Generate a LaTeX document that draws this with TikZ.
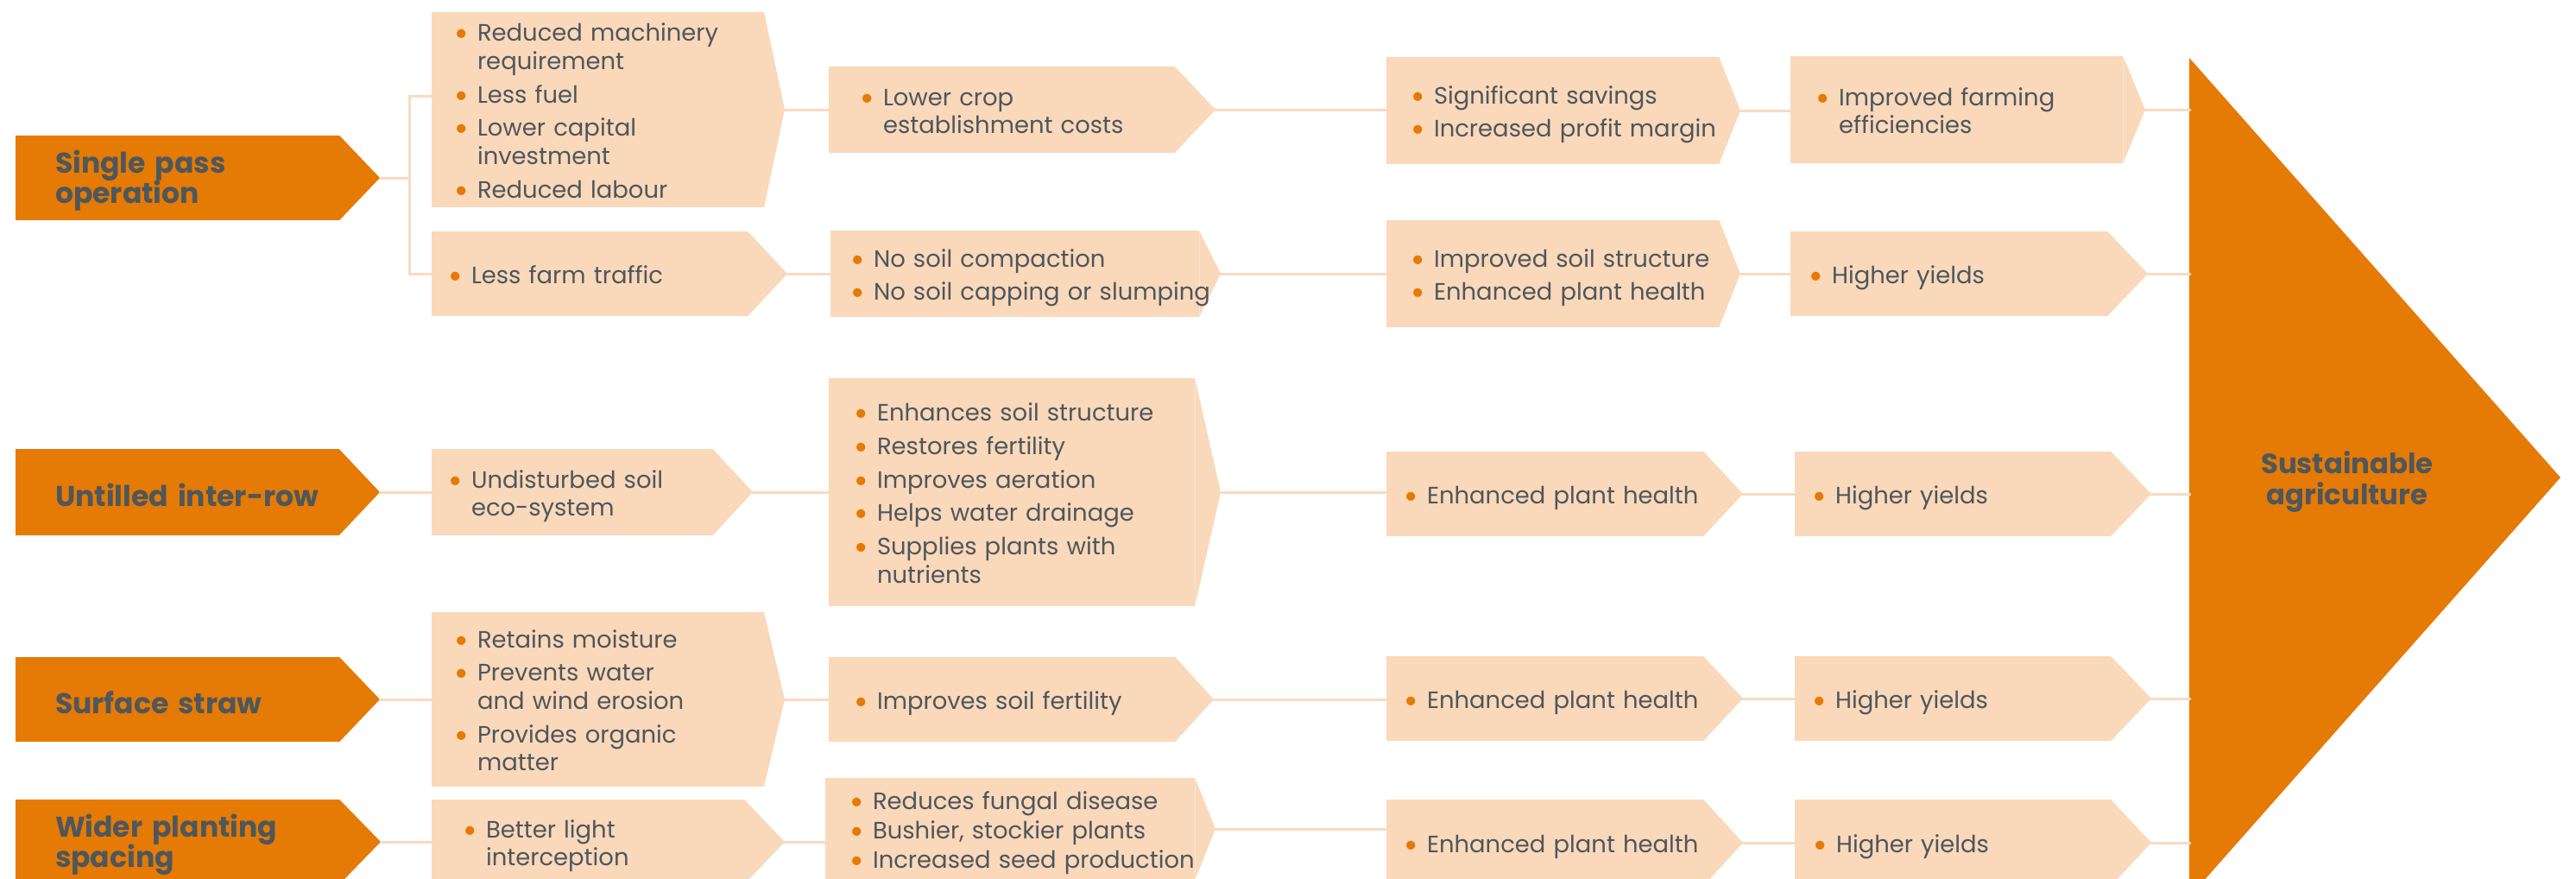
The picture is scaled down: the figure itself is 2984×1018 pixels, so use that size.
\documentclass[tikz,border=0pt]{standalone}
\usepackage{fontspec}
\setmainfont{Poppins}
\newfontfamily\bulfont{Lato}
\usepackage{tikz}
\definecolor{box_orange}{RGB}{229,122,5}
\definecolor{box_peach}{RGB}{250,216,186}
\definecolor{edge_peach}{RGB}{250,218,192}
\definecolor{text_gray}{RGB}{77,87,92}
\pgfdeclarelayer{bg}
\pgfsetlayers{bg,main}

\def\boxpad{0.34cm}
\def\itemgap{1.7pt}
% one bullet point, lines broken by hand with \\
\newcommand{\itm}[1]{\noindent\makebox[5.4pt][l]{\hspace*{-2.2pt}\bulfont\textcolor{box_orange}{\textbullet}}\parbox[t]{4.5cm}{\raggedright\strut#1\strut}\par}
% pointed right end of a box (under the text), and its tip coordinate
\newcommand{\chevtip}[3]{%
  \begin{pgfonlayer}{bg}
    \fill[#3] (#1.north east) -- (#2,0 |- #1.east) -- (#1.south east) -- cycle;
  \end{pgfonlayer}
  \coordinate (#1-tip) at (#2,0 |- #1.east);}

\begin{document}
\begin{tikzpicture}[x=0.01cm,y=-0.01cm]
    \tikzset{lpad/.code={\def\boxpad{#1}},igap/.code={\def\itemgap{#1}}}
    \tikzstyle{peachbox}=[rectangle, fill=box_peach, anchor=west, inner sep=0pt, outer sep=0pt, text=text_gray,
        font=\fontsize{7.8}{9.3}\selectfont,
        execute at begin node={\raggedright\leftskip=\boxpad\relax\rightskip=-3cm plus 1fil\relax
            \parskip=\itemgap\relax\lineskip=0pt\relax\rule{0pt}{9.3pt}}]
    \tikzstyle{headbox}=[style=peachbox, fill=box_orange, lpad=0.46cm, font=\fontsize{9.4}{9.2}\selectfont\bfseries]
    \tikzstyle{conn}=[edge_peach, line width=0.03cm, line cap=rect]
    \tikzstyle{goaltext}=[align=center, text=text_gray, font=\fontsize{9.2}{10}\selectfont\bfseries]

    \useasboundingbox (0,0) rectangle (2984,1018);
    \clip (0,0) rectangle (2984,1018);

    % headings
    \node[headbox, text width=3.75cm, minimum height=0.98cm] (hA) at (18,206) {Single pass\newline operation};
    \node[headbox, text width=3.75cm, minimum height=0.99cm] (hC) at (18,570) {Untilled inter-row};
    \node[headbox, text width=3.75cm, minimum height=0.98cm] (hD) at (18,810) {Surface straw};
    \node[headbox, text width=3.75cm, minimum height=0.98cm] (hE) at (18,975) {Wider planting\newline spacing};

    % single pass: costs
    \node[peachbox, lpad=0.34cm, text width=3.85cm, minimum height=2.25cm] (A1) at (500,127)
        {\itm{Reduced machinery\\requirement}\itm{Less fuel}\itm{Lower capital\\investment}\itm{Reduced labour}};
    \node[peachbox, lpad=0.44cm, text width=4.01cm, minimum height=0.99cm] (A2) at (960,127)
        {\itm{Lower crop\\establishment costs}};
    \node[peachbox, lpad=0.36cm, text width=3.85cm, minimum height=1.24cm] (A3) at (1606,128)
        {\itm{Significant savings}\itm{Increased profit margin}};
    \node[peachbox, lpad=0.37cm, text width=3.85cm, minimum height=1.24cm] (A4) at (2074,127)
        {\itm{Improved farming\\efficiencies}};

    % single pass: traffic
    \node[peachbox, lpad=0.27cm, text width=3.66cm, minimum height=0.98cm] (B1) at (500,317) {\itm{Less farm traffic}};
    \node[peachbox, lpad=0.31cm, text width=4.27cm, minimum height=0.99cm] (B2) at (962,317)
        {\itm{No soil compaction}\itm{No soil capping or slumping}};
    \node[peachbox, lpad=0.36cm, text width=3.85cm, minimum height=1.24cm] (B3) at (1606,317)
        {\itm{Improved soil structure}\itm{Enhanced plant health}};
    \node[peachbox, lpad=0.29cm, text width=3.67cm, minimum height=0.98cm] (B4) at (2074,317) {\itm{Higher yields}};

    % untilled inter-row
    \node[peachbox, lpad=0.27cm, text width=3.26cm, minimum height=0.99cm] (C1) at (500,570)
        {\itm{Undisturbed soil\\eco-system}};
    \node[peachbox, lpad=0.37cm, text width=4.24cm, minimum height=2.63cm] (C2) at (960,570)
        {\itm{Enhances soil structure}\itm{Restores fertility}\itm{Improves aeration}\itm{Helps water drainage}\itm{Supplies plants with\\nutrients}};
    \node[peachbox, lpad=0.28cm, text width=3.67cm, minimum height=0.98cm] (C3) at (1606,572) {\itm{Enhanced plant health}};
    \node[peachbox, lpad=0.28cm, text width=3.66cm, minimum height=0.98cm] (C4) at (2079,572) {\itm{Higher yields}};

    % surface straw
    \node[peachbox, lpad=0.34cm, text width=3.85cm, minimum height=2.01cm] (D1) at (500,810)
        {\itm{Retains moisture}\itm{Prevents water\\and wind erosion}\itm{Provides organic\\matter}};
    \node[peachbox, lpad=0.37cm, text width=4.01cm, minimum height=0.98cm] (D2) at (960,810) {\itm{Improves soil fertility}};
    \node[peachbox, lpad=0.28cm, text width=3.67cm, minimum height=0.98cm] (D3) at (1606,809) {\itm{Enhanced plant health}};
    \node[peachbox, lpad=0.28cm, text width=3.66cm, minimum height=0.98cm] (D4) at (2079,809) {\itm{Higher yields}};

    % wider planting spacing
    \node[peachbox, lpad=0.44cm, text width=3.62cm, minimum height=0.98cm] (E1) at (500,975)
        {\itm{Better light\\interception}};
    \node[peachbox, lpad=0.36cm, igap=0.3pt, text width=4.28cm, minimum height=1.18cm] (E2) at (956,960)
        {\itm{Reduces fungal disease}\itm{Bushier, stockier plants}\itm{Increased seed production}};
    \node[peachbox, lpad=0.28cm, text width=3.67cm, minimum height=1.00cm] (E3) at (1606,976) {\itm{Enhanced plant health}};
    \node[peachbox, lpad=0.29cm, text width=3.66cm, minimum height=1.00cm] (E4) at (2079,976) {\itm{Higher yields}};

    \chevtip{hA}{440}{box_orange}
    \chevtip{hC}{440}{box_orange}
    \chevtip{hD}{440}{box_orange}
    \chevtip{hE}{441}{box_orange}
    \chevtip{A1}{909}{box_peach}
    \chevtip{A2}{1408}{box_peach}
    \chevtip{A3}{2016}{box_peach}
    \chevtip{A4}{2485}{box_peach}
    \chevtip{B1}{912}{box_peach}
    \chevtip{B2}{1414}{box_peach}
    \chevtip{B3}{2016}{box_peach}
    \chevtip{B4}{2488}{box_peach}
    \chevtip{C1}{872}{box_peach}
    \chevtip{C2}{1414}{box_peach}
    \chevtip{C3}{2019}{box_peach}
    \chevtip{C4}{2492}{box_peach}
    \chevtip{D1}{909}{box_peach}
    \chevtip{D2}{1406}{box_peach}
    \chevtip{D3}{2019}{box_peach}
    \chevtip{D4}{2492}{box_peach}
    \chevtip{E1}{909}{box_peach}
    \chevtip{E2}{1408}{box_peach}
    \chevtip{E3}{2019}{box_peach}
    \chevtip{E4}{2492}{box_peach}

    % goal arrow
    \fill[box_orange] (2536,67) -- (2966,553) -- (2536,1039) -- cycle;
    \coordinate (goalL) at (2536,553);
    \node[goaltext] (goal) at (2719,558) {Sustainable\\agriculture};

    \coordinate (forktop) at (474,111);
    \coordinate (forkbot) at (474,317);

    \path[conn]
     (hA-tip) edge (hA-tip -| forktop)
     (forktop -| A1.west) edge (forktop)
     (forktop) edge (forkbot)
     (forkbot) edge (B1.west)
     (A1-tip) edge (A1-tip -| A2.west)
     (A2-tip) edge (A2-tip -| A3.west)
     (A3-tip) edge (A3-tip -| A4.west)
     (A4-tip) edge (A4-tip -| goalL)
     (B1-tip) edge (B1-tip -| B2.west)
     (B2-tip) edge (B2-tip -| B3.west)
     (B3-tip) edge (B3-tip -| B4.west)
     (B4-tip) edge (B4-tip -| goalL)
     (hC-tip) edge (hC-tip -| C1.west)
     (C1-tip) edge (C1-tip -| C2.west)
     (C2-tip) edge (C2-tip -| C3.west)
     (C3-tip) edge (C3-tip -| C4.west)
     (C4-tip) edge (C4-tip -| goalL)
     (hD-tip) edge (hD-tip -| D1.west)
     (D1-tip) edge (D1-tip -| D2.west)
     (D2-tip) edge (D2-tip -| D3.west)
     (D3-tip) edge (D3-tip -| D4.west)
     (D4-tip) edge (D4-tip -| goalL)
     (hE-tip) edge (hE-tip -| E1.west)
     (E1-tip) edge (E1-tip -| E2.west)
     (E2-tip) edge (E2-tip -| E3.west)
     (E3-tip) edge (E3-tip -| E4.west)
     (E4-tip) edge (E4-tip -| goalL)
     ;
\end{tikzpicture}
\end{document}
